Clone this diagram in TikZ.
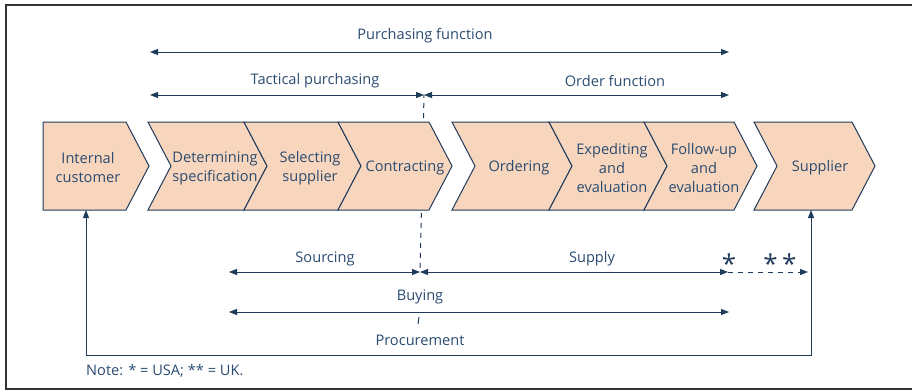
\documentclass[tikz,border=0pt]{standalone}
\usepackage{fontspec}
\setmainfont{Open Sans}
\usetikzlibrary{arrows.meta}
\definecolor{navy}{HTML}{1F3B5C}
\definecolor{txt}{HTML}{2A4B70}
\definecolor{peach}{HTML}{F8D6BE}
\newcommand\chevpath[2]{(#1,122) -- (#2,122) -- (#2+23,166) -- (#2,210) -- (#1,210) -- (#1+23,166) -- cycle}
\begin{document}
\begin{tikzpicture}[x=1pt,y=-1pt,
  chev/.style={draw=navy,fill=peach,line width=1pt,line join=miter},
  lbl/.style={text=txt,align=center,font=\fontsize{14.6}{19}\selectfont,inner sep=0pt,yshift=-2pt},
  dim/.style={draw=navy,line width=1pt,{Triangle[length=8pt,width=6pt]}-{Triangle[length=8pt,width=6pt]}},
  dashln/.style={draw=navy,line width=1pt,dash pattern=on 5pt off 5pt}]
\useasboundingbox (0,0) rectangle (912,391);
\draw[line width=1.5pt,draw=black!80] (6,5) rectangle (930,389);
% dashed divider behind the chevrons
\coordinate (tj) at (424,95);
\coordinate (sj) at (420,272);
\draw[dashln,dash phase=-8pt] (tj) -- (sj);
% chevrons
\draw[chev] (43,122) -- (126,122) -- (149,166) -- (126,210) -- (43,210) -- cycle;
\draw[chev] \chevpath{148}{244};
\draw[chev] \chevpath{244}{338};
\draw[chev] \chevpath{338}{429};
\draw[chev] \chevpath{452}{549};
\draw[chev] \chevpath{549}{644};
\draw[chev] \chevpath{644}{734};
\draw[chev] \chevpath{754}{852};
\node[lbl] (ic) at (88,166) {Internal\\customer};
\node[lbl] (ds) at (215,166) {Determining\\specification};
\node[lbl] (ss) at (310,166) {Selecting\\supplier};
\node[lbl] (ct) at (405,166) {Contracting};
\node[lbl] (od) at (519,166) {Ordering};
\node[lbl] (ex) at (612,166) {Expediting\\and\\evaluation};
\node[lbl] (fu) at (704,166) {Follow-up\\and\\evaluation};
\node[lbl] (su) at (820,166) {Supplier};
% top dimension lines
\coordinate (pfl) at (150,52);
\coordinate (pfr) at (729,52);
\draw[dim] (pfl) -- (pfr);
\node[lbl] (pf) at (425,34) {Purchasing function};
\coordinate (tpl) at (150,95);
\coordinate (ofr) at (729,95);
\draw[dim] (tpl) -- (tj);
\draw[dim] (tj) -- (ofr);
\node[lbl] (tp) at (315,79) {Tactical purchasing};
\node[lbl] (of) at (615,79) {Order function};
% bottom dimension lines
\coordinate (scl) at (229,272);
\coordinate (spr) at (728,272);
\coordinate (uk) at (808,272);
\draw[dim] (scl) -- (sj);
\draw[dim] (sj) -- (spr);
\draw[dashln,-{Triangle[length=8pt,width=6pt]}] (spr) -- (uk);
\node[lbl] (sc) at (325,257) {Sourcing};
\node[lbl] (sp) at (592,257) {Supply};
\node[text=navy,font=\fontsize{26}{26}\selectfont,inner sep=0pt] (st1) at (729,264) {*};
\node[text=navy,font=\fontsize{26}{26}\selectfont,inner sep=0pt] (st2) at (780,264) {*\,*};
\coordinate (byl) at (229,312);
\coordinate (byr) at (729,312);
\draw[dim] (byl) -- (byr);
\node[lbl] (by) at (420,295) {Buying};
\draw[navy,line width=1pt] (419,317) -- (418,324);
\node[lbl] (pr) at (420,338) {Procurement};
% feedback loop
\coordinate (icb) at (86,210);
\coordinate (sub) at (811,210);
\draw[dim] (icb) -- (86,355) -- (811,355) -- (sub);
\node[lbl,anchor=west] (note) at (86,369) {Note: * = USA; ** = UK.};
\end{tikzpicture}
\end{document}
